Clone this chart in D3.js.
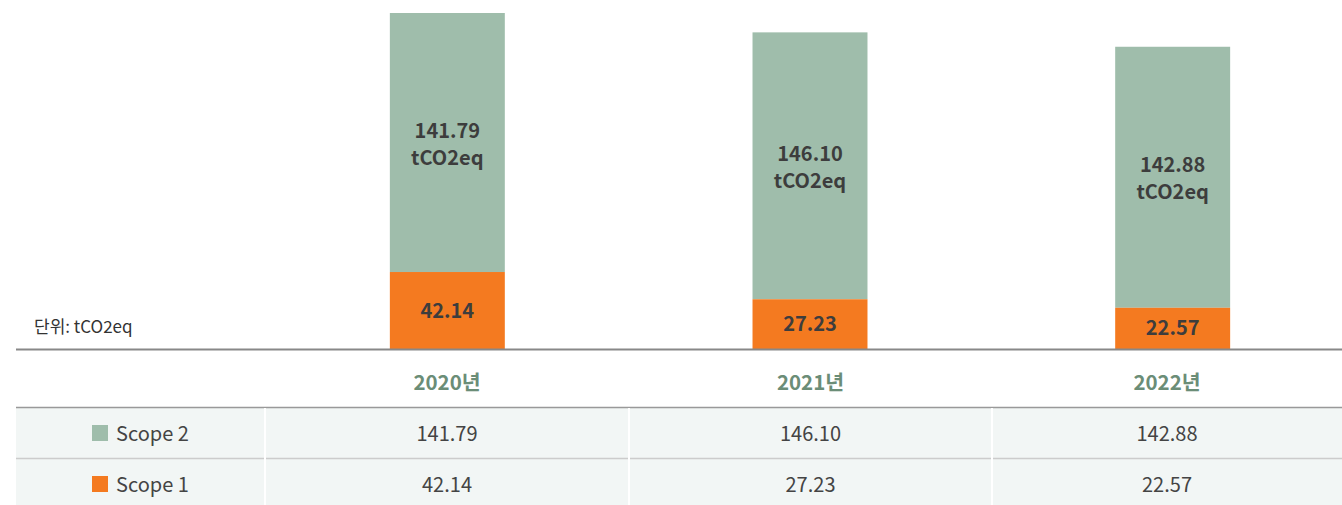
<!DOCTYPE html>
<html>
<head>
<meta charset="utf-8">
<script src="https://cdn.jsdelivr.net/npm/d3@7"></script>
<style>
  body { margin: 0; background: #fff; }
  svg { display: block; font-family: "Noto Sans CJK KR", "Noto Sans", sans-serif; }
</style>
</head>
<body>
<div id="chart"></div>
<script>
// data
const years = ['2020년', '2021년', '2022년'];
const scope1 = [42.14, 27.23, 22.57];
const scope2 = [141.79, 146.10, 142.88];
const seriesNames = ['Scope 2', 'Scope 1'];
const unitLabel = '단위: tCO2eq';

const W = 1342, H = 505;
const baseY = 349;
const green = '#9fbdab', orange = '#f47a20';

const svg = d3.select('#chart').append('svg')
  .attr('width', W).attr('height', H);

const x = d3.scaleBand()
  .domain(years)
  .range([266, 1354])
  .paddingInner(0.683)
  .paddingOuter(0.3415);

const totals = years.map((d, i) => scope1[i] + scope2[i]);
const y = d3.scaleLinear()
  .domain([0, d3.max(totals)])
  .range([baseY, 13]);

// bars
const rows = years.map((d, i) => ({ year: d, s1: scope1[i], s2: scope2[i] }));
const g = svg.append('g');

const bar = g.selectAll('.bar')
  .data(rows)
  .enter()
  .append('g');

bar.append('rect')
  .attr('x', d => x(d.year))
  .attr('width', x.bandwidth())
  .attr('y', d => y(d.s1 + d.s2))
  .attr('height', d => y(d.s1) - y(d.s1 + d.s2))
  .attr('fill', green);

bar.append('rect')
  .attr('x', d => x(d.year))
  .attr('width', x.bandwidth())
  .attr('y', d => y(d.s1))
  .attr('height', d => baseY - y(d.s1))
  .attr('fill', orange);

// labels inside the bars
bar.append('text')
  .attr('x', d => x(d.year) + x.bandwidth() / 2)
  .attr('y', d => (y(d.s1 + d.s2) + y(d.s1)) / 2)
  .attr('text-anchor', 'middle')
  .style('font-size', '20px')
  .style('font-weight', 'bold')
  .attr('fill', '#3d3d3d')
  .each(function (d) {
    const t = d3.select(this);
    t.append('tspan').attr('x', t.attr('x')).attr('dy', '-0.25em').text(d.s2.toFixed(2));
    t.append('tspan').attr('x', t.attr('x')).attr('dy', '1.35em').text('tCO2eq');
  });

bar.append('text')
  .attr('x', d => x(d.year) + x.bandwidth() / 2)
  .attr('y', d => (y(d.s1) + baseY) / 2)
  .attr('dy', '0.35em')
  .attr('text-anchor', 'middle')
  .style('font-size', '20px')
  .style('font-weight', 'bold')
  .attr('fill', '#3d3d3d')
  .text(d => d.s1.toFixed(2));

// unit
svg.append('text')
  .attr('x', 34).attr('y', 333)
  .style('font-size', '17px')
  .attr('fill', '#333')
  .text(unitLabel);

// baseline
svg.append('line')
  .attr('x1', 16).attr('x2', W)
  .attr('y1', baseY + 0.5).attr('y2', baseY + 0.5)
  .attr('stroke', '#888').attr('stroke-width', 2);

// table
const colEdges = [16, 265, 629, 992, W];
const rowTop = 408, rowH = 51;

// header year labels
svg.selectAll('.yr')
  .data(years)
  .enter()
  .append('text')
  .attr('x', (d, i) => (colEdges[i + 1] + colEdges[i + 2]) / 2)
  .attr('y', 383)
  .attr('dy', '0.35em')
  .attr('text-anchor', 'middle')
  .style('font-size', '20.5px')
  .style('font-weight', 'bold')
  .attr('fill', '#6b8d77')
  .text(d => d);

// row backgrounds
svg.append('rect')
  .attr('x', 16).attr('y', rowTop)
  .attr('width', W - 16).attr('height', H - rowTop)
  .attr('fill', '#f2f6f5');

svg.append('line')
  .attr('x1', 16).attr('x2', W)
  .attr('y1', rowTop - 0.5).attr('y2', rowTop - 0.5)
  .attr('stroke', '#999').attr('stroke-width', 1.5);

svg.append('line')
  .attr('x1', 16).attr('x2', W)
  .attr('y1', rowTop + rowH - 0.5).attr('y2', rowTop + rowH - 0.5)
  .attr('stroke', '#ccc').attr('stroke-width', 1.5);

// vertical separators
svg.selectAll('.vsep')
  .data(colEdges.slice(1, 4))
  .enter()
  .append('rect')
  .attr('x', d => d - 1).attr('y', rowTop)
  .attr('width', 2).attr('height', H - rowTop)
  .attr('fill', '#fff');

const tableRows = [
  { name: seriesNames[0], color: green, vals: scope2 },
  { name: seriesNames[1], color: orange, vals: scope1 }
];

tableRows.forEach((r, ri) => {
  const cy = rowTop + rowH * ri + 26;
  svg.append('rect')
    .attr('x', 92).attr('y', cy - 9)
    .attr('width', 16).attr('height', 16)
    .attr('fill', r.color);
  svg.append('text')
    .attr('x', 116).attr('y', cy)
    .attr('dy', '0.35em')
    .style('font-size', '20px')
    .attr('fill', '#444')
    .text(r.name);
  r.vals.forEach((v, i) => {
    svg.append('text')
      .attr('x', (colEdges[i + 1] + colEdges[i + 2]) / 2)
      .attr('y', cy)
      .attr('dy', '0.35em')
      .attr('text-anchor', 'middle')
      .style('font-size', '20px')
      .attr('fill', '#444')
      .text(v.toFixed(2));
  });
});
</script>
</body>
</html>
